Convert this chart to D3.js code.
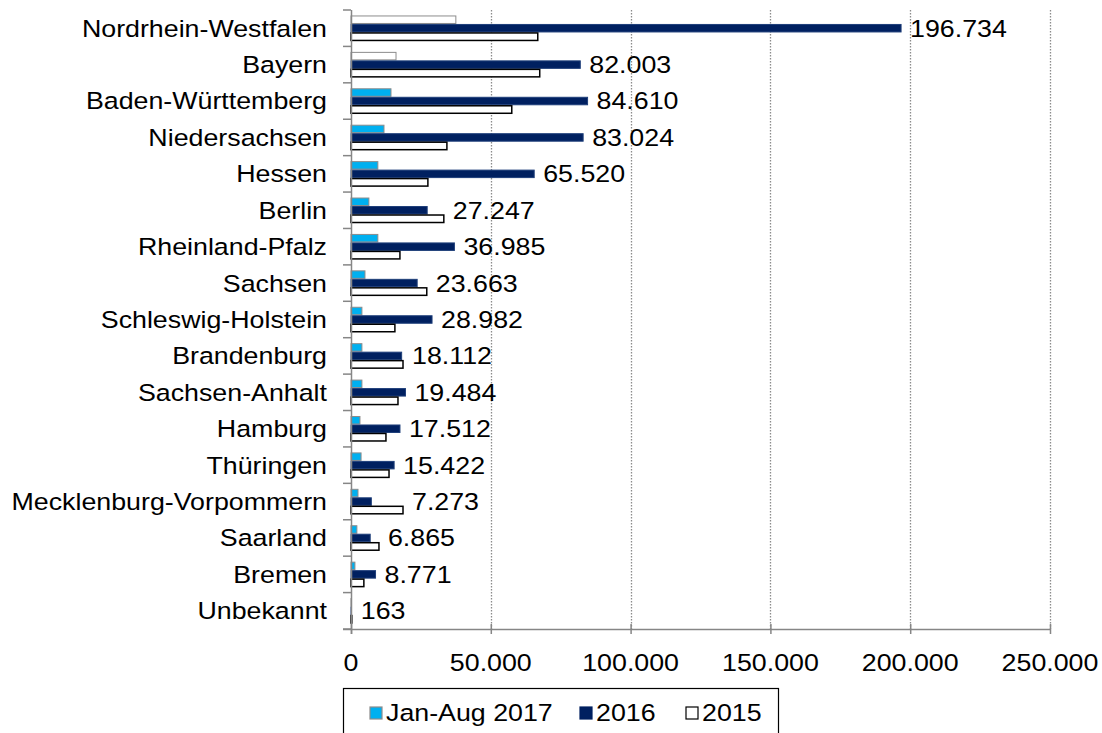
<!DOCTYPE html>
<html>
<head>
<meta charset="utf-8">
<script src="https://cdn.jsdelivr.net/npm/d3@7"></script>
<style>
  body { margin: 0; background: #fff; }
  svg { font-family: "Liberation Sans", Arial, sans-serif; }
</style>
</head>
<body>
<svg id="chart" width="1102" height="733"></svg>
<script>
const states = ["Nordrhein-Westfalen", "Bayern", "Baden-Württemberg", "Niedersachsen", "Hessen", "Berlin",
    "Rheinland-Pfalz", "Sachsen", "Schleswig-Holstein", "Brandenburg", "Sachsen-Anhalt", "Hamburg",
    "Thüringen", "Mecklenburg-Vorpommern", "Saarland", "Bremen", "Unbekannt"];
const values2017 = [37500, 16100, 14300, 11800, 9600, 6400, 9600, 5000, 3900, 3900, 3900, 3200, 3600, 2500, 2100, 1400, 100];
const values2016 = [196734, 82003, 84610, 83024, 65520, 27247, 36985, 23663, 28982, 18112, 19484, 17512, 15422, 7273, 6865, 8771, 163];
const values2015 = [66800, 67500, 57500, 34300, 27500, 33200, 17500, 27100, 15700, 18600, 16800, 12500, 13600, 18600, 10000, 4600, 300];
const xTicks = [0, 50000, 100000, 150000, 200000, 250000];
const seriesNames = ["Jan-Aug 2017", "2016", "2015"];

const fmt = v => d3.format(",")(v).replace(/,/g, ".");

const svg = d3.select("#chart");
const margin = {left: 351, right: 52, top: 10, bottom: 104};
const W = 1102, H = 733;
const FS = 23.5, SX = 1.14;   // font size and horizontal stretch of the text

const x = d3.scaleLinear().domain([0, 250000]).range([margin.left, W - margin.right]);
const y = d3.scaleBand().domain(states).range([margin.top, H - margin.bottom]).paddingInner(0.3).paddingOuter(0.15);
const band = d3.scaleBand().domain(seriesNames).range([0, y.bandwidth()]);

const rows = states.map((s, i) => ({state: s, v: [values2017[i], values2016[i], values2015[i]]}));

// stretched text helper
function label(sel, xf, yf) {
    return sel.attr("transform", (d, i) => `translate(${xf(d, i)},${yf(d, i)}) scale(${SX},1)`)
        .attr("font-size", FS).attr("dy", "0.36em").attr("fill", "#000");
}

// grid lines
svg.append("g").selectAll("line").data(xTicks.slice(1)).join("line")
    .attr("x1", d => Math.round(x(d)) + 0.5).attr("x2", d => Math.round(x(d)) + 0.5)
    .attr("y1", margin.top).attr("y2", H - margin.bottom)
    .attr("stroke", "#8c8c8c").attr("stroke-width", 1.3).attr("stroke-dasharray", "1.5,1.5");

const fills = ["#00b0f0", "#002060", "#ffffff"];
const strokes = ["#8c8c8c", "#1f3f7a", "#000000"];

const g = svg.append("g").selectAll("g").data(rows).join("g")
    .attr("transform", d => `translate(0,${y(d.state)})`);

g.selectAll("rect").data((d, ri) => d.v.map((v, k) => ({v, k, ri}))).join("rect")
    .attr("x", x(0))
    .attr("y", d => band(seriesNames[d.k]) + 0.5)
    .attr("width", d => Math.max(0.5, x(d.v) - x(0)))
    .attr("height", band.bandwidth() - 1)
    .attr("fill", d => (d.k === 0 && d.ri < 2) ? "#ffffff" : fills[d.k])
    .attr("stroke", d => strokes[d.k])
    .attr("stroke-width", d => d.k === 2 ? 1.5 : 1);

// value labels for 2016
label(g.append("text"), d => x(Math.max(d.v[1], d.v[2])) + 9, () => y.bandwidth() / 2)
    .text(d => fmt(d.v[1]));

// y axis
const yAxisG = svg.append("g");
yAxisG.append("line")
    .attr("x1", x(0) + 0.5).attr("x2", x(0) + 0.5)
    .attr("y1", margin.top).attr("y2", H - margin.bottom + 5)
    .attr("stroke", "#868686").attr("stroke-width", 1.5);
const step = (H - margin.bottom - margin.top) / states.length;
yAxisG.selectAll("line.tick").data(d3.range(states.length + 1)).join("line")
    .attr("class", "tick")
    .attr("x1", x(0) - 8).attr("x2", x(0))
    .attr("y1", i => margin.top + i * step).attr("y2", i => margin.top + i * step)
    .attr("stroke", "#868686").attr("stroke-width", 1.5);
label(yAxisG.selectAll("text").data(states).join("text"), () => 327, d => y(d) + y.bandwidth() / 2)
    .attr("text-anchor", "end")
    .text(d => d);

// x axis
const xAxisG = svg.append("g");
xAxisG.append("line")
    .attr("x1", x(0) - 8).attr("x2", x(250000))
    .attr("y1", H - margin.bottom + 0.5).attr("y2", H - margin.bottom + 0.5)
    .attr("stroke", "#868686").attr("stroke-width", 1.5);
xAxisG.selectAll("line.tick").data(xTicks).join("line")
    .attr("class", "tick")
    .attr("x1", d => x(d) + 0.5).attr("x2", d => x(d) + 0.5)
    .attr("y1", H - margin.bottom - 5).attr("y2", H - margin.bottom + 5)
    .attr("stroke", "#868686").attr("stroke-width", 1.5);
label(xAxisG.selectAll("text").data(xTicks).join("text"), d => x(d), () => 663)
    .attr("text-anchor", "middle")
    .text(d => fmt(d));

// legend
const legend = svg.append("g");
legend.append("rect")
    .attr("x", 343.5).attr("y", 688.5).attr("width", 435).attr("height", 50)
    .attr("fill", "#fff").attr("stroke", "#000").attr("stroke-width", 1.2);
const legendX = [370, 580, 686];
seriesNames.forEach((name, k) => {
    legend.append("rect")
        .attr("x", legendX[k]).attr("y", 707).attr("width", 12).attr("height", 12)
        .attr("fill", fills[k]).attr("stroke", k === 0 ? "#8c8c8c" : (k === 1 ? "#002060" : "#000"))
        .attr("stroke-width", 1.2);
    label(legend.append("text"), () => legendX[k] + 16, () => 713)
        .text(name);
});
</script>
</body>
</html>
